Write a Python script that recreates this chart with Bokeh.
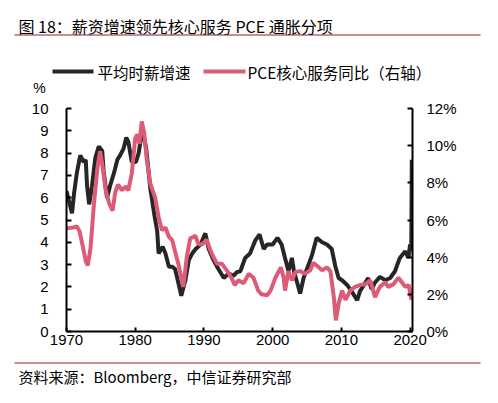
from bokeh.plotting import figure
from bokeh.models import Range1d, LinearAxis, FixedTicker, PrintfTickFormatter
from bokeh.layouts import column
from bokeh.core.properties import value
from bokeh.embed import file_html
from bokeh.resources import INLINE

# ---- data ----
wage_year = [1970.0, 1970.4, 1970.8, 1971.1, 1971.5, 1972.0, 1972.5, 1972.8, 1973.0, 1973.3,
             1973.7, 1974.2, 1974.7, 1975.2, 1975.4, 1975.9, 1976.4, 1976.9, 1977.4, 1977.8,
             1978.3, 1978.7, 1979.0, 1979.5, 1980.1, 1980.5, 1980.9, 1981.1, 1981.6, 1982.2,
             1982.8, 1983.2, 1983.4, 1984.0, 1984.4, 1984.9, 1985.4, 1985.8, 1986.3, 1986.7,
             1987.3, 1987.8, 1988.3, 1988.8, 1989.5, 1990.2, 1990.7, 1991.4, 1992.1, 1992.9,
             1993.6, 1994.3, 1994.8, 1995.3, 1996.0, 1996.7, 1997.5, 1998.1, 1998.7, 1999.2,
             2000.0, 2000.7, 2001.3, 2001.8, 2002.3, 2002.8, 2003.1, 2003.6, 2004.0, 2004.5,
             2005.1, 2005.7, 2006.4, 2007.2, 2007.9, 2008.6, 2009.1, 2009.6, 2010.1, 2010.8,
             2011.5, 2012.3, 2012.7, 2013.5, 2013.9, 2014.4, 2014.9, 2015.6, 2016.4, 2017.1,
             2017.8, 2018.5, 2019.3, 2019.75, 2020.0, 2020.17, 2020.25, 2020.33]
wage_growth = [6.3, 5.8, 5.3, 6.2, 7.1, 7.9, 7.6, 7.7, 6.5, 5.7,
               6.5, 7.8, 8.3, 8.1, 7.2, 6.0, 6.6, 7.1, 7.7, 7.9,
               8.2, 8.7, 8.5, 7.6, 7.6, 8.0, 8.8, 9.0, 8.2, 6.4,
               5.2, 4.5, 3.5, 3.8, 3.5, 2.9, 2.9, 2.8, 2.15, 1.6,
               2.3, 3.2, 3.5, 3.7, 3.9, 4.4, 3.7, 3.2, 2.8, 2.4,
               2.6, 2.5, 2.66, 2.7, 3.3, 3.5, 4.1, 4.35, 3.7, 3.9,
               3.9, 4.2, 3.9, 3.3, 2.7, 3.3, 2.7, 2.15, 1.7, 2.4,
               2.9, 3.4, 4.2, 4.0, 3.9, 3.7, 2.95, 2.4, 2.3, 2.1,
               1.8, 1.4, 1.8, 2.2, 2.4, 1.9, 2.2, 2.45, 2.3, 2.4,
               2.7, 3.3, 3.6, 3.3, 3.9, 3.6, 7.7, 6.6]

pce_year = [1970.0, 1971.0, 1971.5, 1971.9, 1972.3, 1972.8, 1973.1, 1973.5, 1974.0, 1974.5,
            1974.9, 1975.2, 1975.7, 1976.2, 1976.7, 1977.1, 1977.5, 1978.1, 1978.6, 1979.0,
            1979.5, 1980.0, 1980.3, 1980.6, 1980.95, 1981.3, 1981.7, 1982.2, 1982.9, 1983.4,
            1983.9, 1984.4, 1984.9, 1985.4, 1985.8, 1986.3, 1986.7, 1987.0, 1987.5, 1988.0,
            1988.75, 1989.2, 1989.8, 1990.4, 1990.9, 1991.4, 1991.9, 1992.6, 1993.3, 1994.0,
            1994.5, 1995.0, 1995.8, 1996.5, 1997.2, 1997.9, 1998.4, 1999.2, 1999.7, 2000.4,
            2001.2, 2001.6, 2001.8, 2002.3, 2002.8, 2003.3, 2004.0, 2004.7, 2005.5, 2005.9,
            2006.4, 2007.2, 2007.9, 2008.4, 2008.9, 2009.2, 2009.6, 2010.1, 2010.6, 2011.3,
            2012.0, 2012.7, 2013.5, 2014.2, 2014.9, 2015.6, 2016.4, 2016.8, 2017.6, 2018.3,
            2018.8, 2019.3, 2019.8, 2020.2]
pce_core_services = [5.55, 5.6, 5.65, 5.4, 4.7, 3.8, 3.55, 4.5, 6.9, 8.8,
                     9.7, 9.0, 7.6, 6.9, 6.5, 7.5, 7.9, 7.6, 7.8, 7.6,
                     8.5, 10.4, 10.6, 10.1, 11.3, 10.7, 9.2, 7.95, 7.2, 6.15,
                     5.45, 5.6, 5.1, 4.9, 4.3, 3.6, 2.9, 2.4, 4.0, 5.0,
                     5.15, 4.7, 4.7, 4.95, 4.4, 4.0, 3.65, 3.65, 3.3, 2.9,
                     2.5, 2.75, 2.6, 3.1, 2.9, 2.2, 2.0, 1.95, 2.2, 2.9,
                     3.45, 2.9, 2.2, 3.25, 2.75, 3.2, 3.25, 3.1, 3.3, 3.7,
                     3.55, 3.3, 3.45, 3.25, 1.85, 0.6, 1.5, 2.2, 1.7, 2.2,
                     2.4, 2.5, 2.55, 2.75, 1.85, 2.4, 2.65, 2.4, 2.55, 2.9,
                     2.65, 2.4, 2.5, 1.7]

x_ticks = [1970, 1980, 1990, 2000, 2010, 2020]
left_ticks = [0, 1, 2, 3, 4, 5, 6, 7, 8, 9, 10]
right_ticks = [0, 2, 4, 6, 8, 10, 12]

title_text = "图 18：薪资增速领先核心服务 PCE 通胀分项"
legend_wage = "平均时薪增速"
legend_pce = "PCE核心服务同比（右轴）"
unit_text = "%"
source_text = "资料来源：Bloomberg，中信证券研究部"

BLACK = "#262626"
PINK = "#DE5B78"
RULE = "#8B2323"
CJK = "Noto Sans CJK SC"
LAT = "Liberation Sans"

W = 482
TOP_H = 98            # canvas y 0 .. 98
MAIN_TOP = 10         # 98 .. 108
FL, FW, FH = 66, 346, 223
MAIN_BOT = 24         # 331 .. 355
MAIN_H = MAIN_TOP + FH + MAIN_BOT
BOT_H = 387 - TOP_H - MAIN_H


def deco_fig(h, y0):
    f = figure(width=W, height=h, output_backend="svg", toolbar_location=None,
               x_range=Range1d(0, W), y_range=Range1d(y0 + h, y0),
               x_axis_location=None, y_axis_location=None, min_border=0,
               frame_align=False)
    f.outline_line_color = None
    f.xgrid.visible = False
    f.ygrid.visible = False
    return f


def txt(f, x, y, s, font, size, align="left"):
    f.text(x=[x], y=[y], text=[s], text_font=value(font), text_font_size=value(size),
           text_color="black", text_baseline="middle", text_align=align)


# ---- header: title, rule, legend, unit ----
top = deco_fig(TOP_H, 0)
txt(top, 18, 25, title_text, CJK, "16px")
top.segment(x0=[14], y0=[34.5], x1=[480], y1=[34.5], line_color=RULE, line_width=1)
top.segment(x0=[52], y0=[71], x1=[93], y1=[71], line_color=BLACK, line_width=4)
txt(top, 97, 71, legend_wage, CJK, "15.5px")
top.segment(x0=[203], y0=[71], x1=[245], y1=[71], line_color=PINK, line_width=4)
txt(top, 247, 71, legend_pce, CJK, "15.5px")
txt(top, 39, 87, unit_text, LAT, "14px", "center")

# ---- main chart ----
p = figure(width=W, height=MAIN_H, output_backend="svg", toolbar_location=None,
           x_range=Range1d(1970, 2020.35), y_range=Range1d(0, 10),
           min_border_left=FL, min_border_top=MAIN_TOP,
           min_border_right=W - FL - FW, min_border_bottom=MAIN_BOT,
           frame_align=False)
p.extra_y_ranges = {"y2": Range1d(0, 12)}
p.outline_line_color = None
p.xgrid.visible = False
p.ygrid.visible = False

p.line(wage_year, wage_growth, line_color=BLACK, line_width=4)
p.line(pce_year, pce_core_services, line_color=PINK, line_width=4, y_range_name="y2")


def style_axis(ax, standoff):
    ax.axis_line_color = "black"
    ax.axis_line_width = 2
    ax.major_tick_line_color = "black"
    ax.major_tick_line_width = 2
    ax.major_tick_in = 5
    ax.major_tick_out = 0
    ax.minor_tick_line_color = None
    ax.major_label_text_font = LAT
    ax.major_label_text_font_size = "15px"
    ax.major_label_text_color = "black"
    ax.major_label_standoff = standoff


xa = p.xaxis[0]
xa.ticker = FixedTicker(ticks=x_ticks)
style_axis(xa, 3)
xa.major_tick_in = 4

ya = p.yaxis[0]
ya.ticker = FixedTicker(ticks=left_ticks)
style_axis(ya, 18)

ra = LinearAxis(y_range_name="y2", ticker=FixedTicker(ticks=right_ticks),
                formatter=PrintfTickFormatter(format="%d%%"))
style_axis(ra, 14)
p.add_layout(ra, "right")

# ---- footer: rule and source ----
bot = deco_fig(BOT_H, TOP_H + MAIN_H)
bot.segment(x0=[14], y0=[362.5], x1=[480], y1=[362.5], line_color=RULE, line_width=1)
txt(bot, 18, 376, source_text, CJK, "15px")

layout = column(top, p, bot, spacing=0)
open("out.html", "w").write(file_html(layout, INLINE))
